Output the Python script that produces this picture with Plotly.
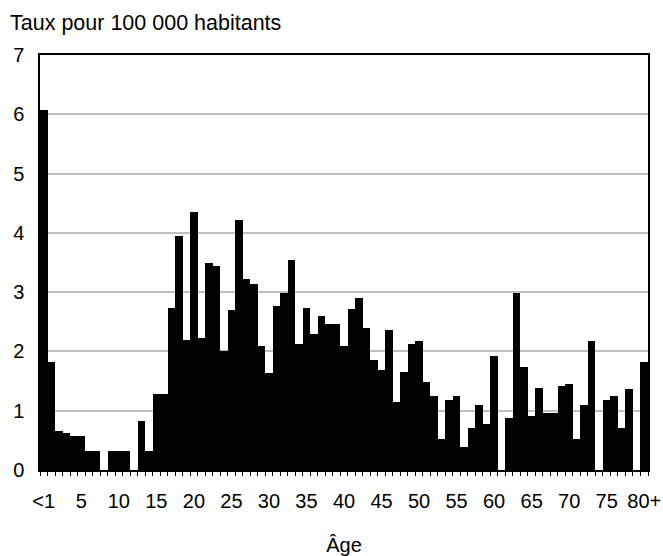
import plotly.graph_objects as go

ages = ["<1"] + [str(i) for i in range(1, 80)] + ["80+"]
rates = [6.07, 1.82, 0.65, 0.62, 0.58, 0.58, 0.32, 0.32, 0.0, 0.32,
         0.32, 0.32, 0.0, 0.82, 0.32, 1.28, 1.28, 2.74, 3.95, 2.20,
         4.36, 2.23, 3.49, 3.44, 2.00, 2.70, 4.22, 3.22, 3.14, 2.09,
         1.63, 2.77, 2.98, 3.55, 2.13, 2.74, 2.29, 2.60, 2.47, 2.46,
         2.09, 2.71, 2.90, 2.40, 1.86, 1.69, 2.36, 1.15, 1.66, 2.13,
         2.17, 1.48, 1.25, 0.53, 1.18, 1.25, 0.38, 0.71, 1.10, 0.78,
         1.93, 0.0, 0.88, 2.98, 1.73, 0.91, 1.39, 0.96, 0.96, 1.42,
         1.45, 0.53, 1.09, 2.17, 0.0, 1.18, 1.25, 0.71, 1.36, 0.0,
         1.82]
label_ages = ["<1", "5", "10", "15", "20", "25", "30", "35", "40", "45",
              "50", "55", "60", "65", "70", "75", "80+"]
y_ticks = [0, 1, 2, 3, 4, 5, 6, 7]

FONT = "Liberation Sans, Arial, sans-serif"

xpos = list(range(len(ages)))
tickvals = [ages.index(a) for a in label_ages]
boundaries = [i - 0.5 for i in range(len(ages) + 1)]
xrange = [-0.5, len(ages) - 0.5]

fig = go.Figure()
fig.add_trace(go.Bar(
    x=xpos, y=rates, width=1.0,
    marker=dict(color="black", line=dict(width=0)),
    hovertext=ages,
))
# helper (invisible) trace so the overlay axis carrying the boundary ticks is drawn
fig.add_trace(go.Scatter(
    x=[xrange[0], xrange[1]], y=[0, 0], xaxis="x2", mode="lines",
    line=dict(width=0, color="rgba(0,0,0,0)"), hoverinfo="skip", showlegend=False,
))

fig.update_layout(
    template="none",
    width=663, height=556,
    margin=dict(l=40, r=15, t=55, b=86, autoexpand=False),
    paper_bgcolor="white", plot_bgcolor="white",
    bargap=0, showlegend=False,
    font=dict(family=FONT, size=20, color="black"),
    title=dict(text="Taux pour 100 000 habitants", x=10/663, xanchor="left",
               xref="container", y=1 - 22/556, yanchor="middle", yref="container",
               font=dict(family=FONT, size=21.5, color="black")),
    xaxis2=dict(
        overlaying="x", anchor="y", side="bottom", range=xrange,
        tickmode="array", tickvals=boundaries, ticktext=[""] * len(boundaries),
        ticks="outside", ticklen=5, tickwidth=1, tickcolor="black",
        showgrid=False, zeroline=False, showline=False, automargin=False,
        fixedrange=True,
    ),
)

fig.layout.xaxis.update(
    range=xrange,
    tickmode="array", tickvals=tickvals, ticktext=label_ages,
    ticks="", showgrid=False, zeroline=False, automargin=False,
    showline=True, linecolor="black", linewidth=2, mirror=True,
    ticklabelstandoff=12,
    tickfont=dict(family=FONT, size=20),
    title=dict(text="Âge", font=dict(family=FONT, size=20), standoff=28),
)

fig.update_yaxes(
    range=[0, 7], tickmode="array", tickvals=y_ticks,
    ticks="", showgrid=True, gridcolor="#bfbfbf", gridwidth=1.5,
    zeroline=False, showline=True, linecolor="black", linewidth=1.5, mirror=True,
    ticklabelstandoff=10, automargin=False,
    tickfont=dict(family=FONT, size=20),
)

fig.write_html(
    "out.html",
    config={"displayModeBar": False},
    post_script="document.body.style.margin='0';document.body.style.overflow='hidden';",
)
